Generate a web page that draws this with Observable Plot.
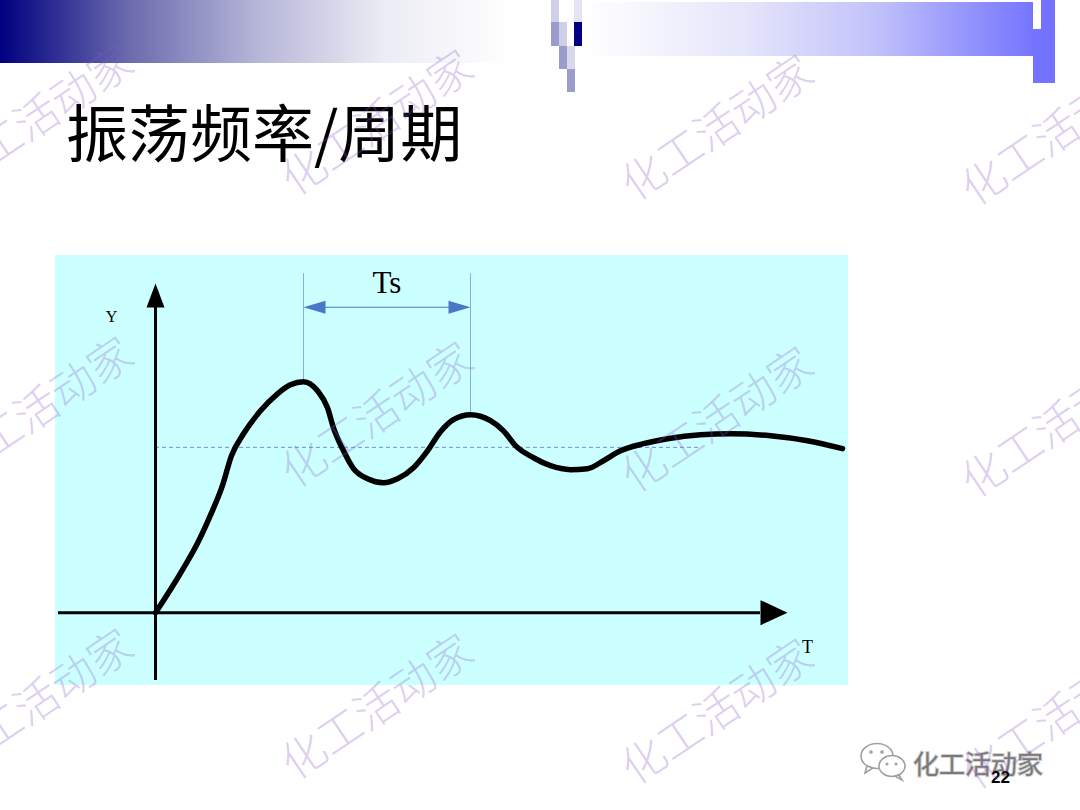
<!DOCTYPE html>
<html>
<head>
<meta charset="utf-8">
<script src="https://cdn.jsdelivr.net/npm/d3@7"></script>
<script src="https://cdn.jsdelivr.net/npm/@observablehq/plot@0.6"></script>
<style>
  html, body { margin: 0; padding: 0; background: #ffffff; }
  #page { position: relative; width: 1080px; height: 810px; overflow: hidden; background: #fff; }
  .blk { position: absolute; }
  #title { position: absolute; left: 66px; top: 99px; font-family: "Noto Sans CJK SC", sans-serif; font-size: 62px; line-height: 1; color: #000; white-space: nowrap; }
  #chart { position: absolute; left: 55px; top: 255px; width: 793px; height: 430px; background: #ccffff; }
  #chart svg { background: transparent; overflow: visible; }
  #wm { position: absolute; left: 0; top: 0; pointer-events: none; }
  #brand { position: absolute; left: 855px; top: 738px; }
  #pageno { position: absolute; left: 991px; top: 769px; font-family: "Liberation Sans", Arial, sans-serif; font-weight: bold; font-size: 17px; color: #000; line-height: 1; }
</style>
</head>
<body>
<div id="page">
  <!-- header decorations -->
  <div class="blk" style="left:0;top:0;width:512px;height:63px;background:linear-gradient(to right,#000080 0%,#6a6aae 25%,#b5b5d8 50%,#ececf5 75%,#ffffff 100%);"></div>
  <div class="blk" style="left:551px;top:0;width:8px;height:22px;background:#cfd0e6;"></div>
  <div class="blk" style="left:551px;top:22px;width:8px;height:24px;background:#9c9ccc;"></div>
  <div class="blk" style="left:559px;top:22px;width:8px;height:24px;background:#cfd0e6;"></div>
  <div class="blk" style="left:574px;top:22px;width:8px;height:24px;background:#000080;"></div>
  <div class="blk" style="left:574px;top:0;width:8px;height:22px;background:#e4e5f1;"></div>
  <div class="blk" style="left:559px;top:46px;width:8px;height:23px;background:#9c9ccc;"></div>
  <div class="blk" style="left:567px;top:46px;width:8px;height:23px;background:#d8d9ec;"></div>
  <div class="blk" style="left:567px;top:69px;width:8px;height:23px;background:#9c9ccc;"></div>
  <div class="blk" style="left:582px;top:2px;width:451px;height:54px;background:linear-gradient(to right,#ffffff 0%,#e6e6fb 35%,#c2c2fb 65%,#7575ff 100%);"></div>
  <div class="blk" style="left:1033px;top:0;width:22px;height:83px;background:#7373ff;"></div>
  <div class="blk" style="left:1033px;top:0;width:8px;height:29px;background:#ffffff;"></div>

  <div id="title">振荡频率/周期</div>
  <div id="chart"></div>

  <svg id="brand" width="200" height="50" viewBox="0 0 200 50">
    <g fill="#fff" stroke="#a0a0a0" stroke-width="1.6">
      <ellipse cx="22" cy="18" rx="16" ry="12.5"/>
      <path d="M12 28 L10 35 L18 30 Z"/>
      <ellipse cx="37" cy="28" rx="13" ry="10.5"/>
      <path d="M44 37 L47 42 L40 38 Z"/>
    </g>
    <g fill="#a0a0a0">
      <circle cx="16" cy="14" r="1.8"/><circle cx="27" cy="14" r="1.8"/>
      <circle cx="32" cy="26" r="1.5"/><circle cx="41" cy="26" r="1.5"/>
    </g>
    <text x="58" y="36" font-family="Noto Sans CJK SC, sans-serif" font-size="26" fill="#ffffff" stroke="#d0d0d0" stroke-width="2">化工活动家</text>
    <text x="58" y="36" font-family="Noto Sans CJK SC, sans-serif" font-size="26" fill="#7a7a7a">化工活动家</text>
  </svg>
  <div id="pageno">22</div>

  <svg id="wm" width="1080" height="810"></svg>
</div>

<script>
// ---- data (time and process response) ----
const time = [0, 0.30, 0.56, 0.84, 1.10, 1.34, 1.52, 1.76, 2.10, 2.44, 2.70, 2.96, 3.24, 3.44, 3.56, 3.76, 3.96, 4.24, 4.56, 4.84, 5.16, 5.44, 5.70, 5.96, 6.30, 6.70, 6.96, 7.20, 7.56, 7.90, 8.30, 8.64, 8.96, 9.30, 9.76, 10.24, 10.90, 11.50, 12.30, 13.04, 13.74];
const response = [0, 0.14, 0.27, 0.42, 0.59, 0.77, 0.95, 1.082, 1.221, 1.324, 1.378, 1.397, 1.342, 1.239, 1.118, 0.979, 0.871, 0.810, 0.786, 0.810, 0.877, 0.979, 1.094, 1.167, 1.197, 1.161, 1.100, 1.010, 0.937, 0.889, 0.865, 0.871, 0.919, 0.979, 1.022, 1.052, 1.076, 1.082, 1.070, 1.040, 0.992];
const steadyValue = 1.0;
const steadyLineEnd = 10.9;
const axisLabels = ["Y", "T"];
const periodLabel = "Ts";
const wmText = "化工活动家";

// ---- derived ----
const curve = time.map((t, i) => ({t, y: response[i]}));
const peaks = curve.filter((d, i) => i > 0 && i < curve.length - 1 && d.y > curve[i - 1].y && d.y >= curve[i + 1].y).slice(0, 2);
const [p1, p2] = peaks;

// arrow head symbol: tip at the anchor point, pointing up (rotate to aim)
function head(k) {
  return { draw(ctx, size) { const s = Math.sqrt(size / Math.PI); ctx.moveTo(0, 0); ctx.lineTo(-k * s, 2 * s); ctx.lineTo(k * s, 2 * s); ctx.closePath(); } };
}

const xMin = -1.94, xTip = 12.64, xBase = 12.1;
const yMin = -0.41, yTip = 1.99, yBase = 1.845;
const tsTop = 2.05, tsArrowY = 1.847;

const serif = "Liberation Serif, Times New Roman, serif";

const plot = Plot.plot({
  width: 793,
  height: 430,
  marginLeft: 0, marginRight: 0, marginTop: 0, marginBottom: 0,
  x: {domain: [-2, 13.86], axis: null},
  y: {domain: [-0.44, 2.16], axis: null},
  style: {background: "transparent", overflow: "visible"},
  marks: [
    // steady-state reference
    Plot.ruleY([steadyValue], {x1: 0, x2: steadyLineEnd, stroke: "#6f8fd6", strokeWidth: 1, strokeDasharray: "4,3"}),
    // Ts extension lines
    Plot.ruleX(peaks, {x: "t", y1: "y", y2: tsTop, stroke: "#8faae2", strokeWidth: 1}),
    Plot.ruleY([tsArrowY], {x1: p1.t + 0.3, x2: p2.t - 0.3, stroke: "#4a78c8", strokeWidth: 1.2}),
    Plot.dot([p1], {x: "t", y: tsArrowY, symbol: head(0.6), r: 11, rotate: -90, fill: "#4a78c8", stroke: "none"}),
    Plot.dot([p2], {x: "t", y: tsArrowY, symbol: head(0.6), r: 11, rotate: 90, fill: "#4a78c8", stroke: "none"}),
    Plot.text([periodLabel], {x: (p1.t + p2.t) / 2, y: 1.935, text: d => d, fontFamily: serif, fontSize: 31, lineAnchor: "bottom", fill: "#000"}),
    // axes
    Plot.ruleY([0], {x1: xMin, x2: xBase, stroke: "#000", strokeWidth: 3}),
    Plot.ruleX([0], {y1: yMin, y2: yBase, stroke: "#000", strokeWidth: 3}),
    Plot.dot([0], {x: xTip, y: 0, symbol: head(0.93), r: 13.5, rotate: 90, fill: "#000", stroke: "none"}),
    Plot.dot([0], {x: 0, y: yTip, symbol: head(0.75), r: 12, rotate: 0, fill: "#000", stroke: "none"}),
    Plot.text([axisLabels[0]], {x: -0.88, y: 1.76, text: d => d, fontFamily: serif, fontSize: 16, lineAnchor: "bottom", fill: "#000"}),
    Plot.text([axisLabels[1]], {x: 13.04, y: -0.242, text: d => d, fontFamily: serif, fontSize: 18, lineAnchor: "bottom", fill: "#000"}),
    // response curve
    Plot.line(curve, {x: "t", y: "y", stroke: "#000", strokeWidth: 5.5, curve: "monotone-x", strokeLinejoin: "round", strokeLinecap: "round"})
  ]
});
document.getElementById("chart").appendChild(plot);

// ---- watermark overlay ----
const wm = d3.select("#wm");
for (let c = 0; c < 4; c++) {
  for (let r = 0; r < 3; r++) {
    const cx = 35 + 340 * c, cy = 115 + 292 * r + 5 * c;
    wm.append("text")
      .attr("transform", `translate(${cx},${cy}) rotate(-34)`)
      .attr("text-anchor", "middle")
      .attr("dominant-baseline", "central")
      .attr("font-family", "Noto Sans CJK SC, sans-serif")
      .attr("font-size", 44)
      .attr("font-weight", 300)
      .attr("fill", "rgba(140,90,200,0.30)")
      .text(wmText);
  }
}
</script>
</body>
</html>
